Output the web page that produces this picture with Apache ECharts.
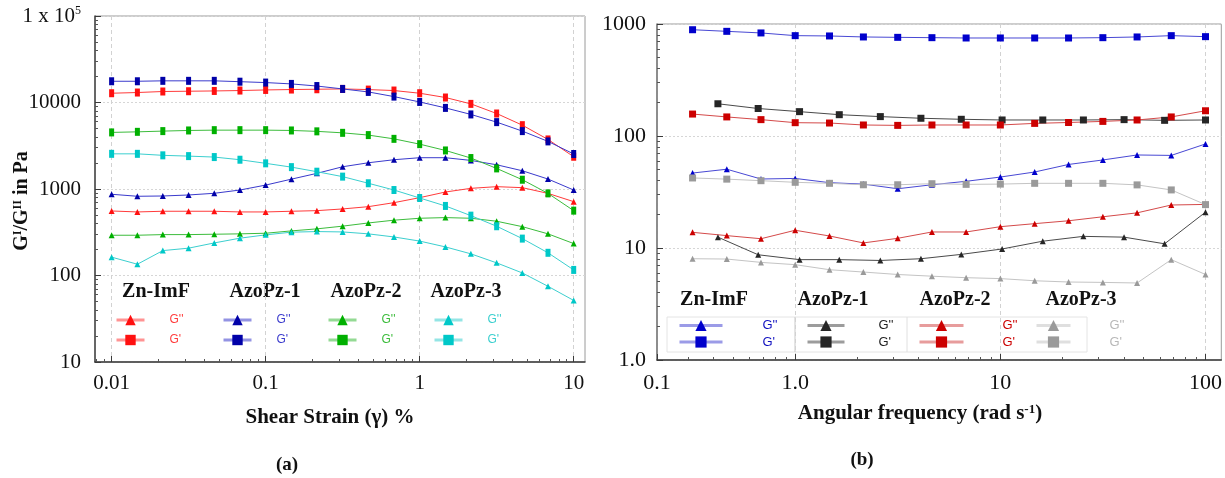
<!DOCTYPE html>
<html><head><meta charset="utf-8">
<script src="https://cdn.jsdelivr.net/npm/echarts@6/dist/echarts.min.js"></script>
<style>html,body{margin:0;padding:0;background:#fff}#c{width:1225px;height:478px}</style>
</head><body><div id="c"></div>
<script>
// ---------- (a) strain sweep ----------
const strainX = [0.01, 0.0147, 0.0215, 0.0316, 0.0464, 0.0681, 0.1, 0.147, 0.215, 0.316, 0.464, 0.681, 1, 1.47, 2.15, 3.16, 4.64, 6.81, 10];
const aZnImF_Gpp = [557, 543, 553, 553, 553, 543, 543, 553, 562, 588, 625, 695, 794, 923, 1018, 1064, 1036, 890, 714];
const aZnImF_Gp  = [12800, 13040, 13400, 13500, 13600, 13750, 13970, 14120, 14230, 14350, 14100, 13750, 12800, 11420, 9640, 7460, 5470, 3740, 2360];
const aAzo1_Gpp  = [869, 824, 830, 853, 892, 973, 1110, 1300, 1516, 1808, 2010, 2180, 2300, 2300, 2140, 1906, 1625, 1303, 973];
const aAzo1_Gp   = [17600, 17600, 17800, 17800, 17800, 17400, 17000, 16400, 15500, 14350, 13250, 11700, 10150, 8660, 7280, 5930, 4670, 3550, 2540];
const aAzo2_Gpp  = [292, 292, 297, 297, 300, 303, 308, 328, 346, 372, 405, 436, 459, 467, 459, 424, 367, 303, 234];
const aAzo2_Gp   = [4510, 4580, 4670, 4750, 4790, 4790, 4790, 4750, 4640, 4460, 4200, 3800, 3300, 2790, 2280, 1730, 1280, 890, 562];
const aAzo3_Gpp  = [163, 135, 194, 207, 238, 270, 295, 317, 322, 319, 303, 279, 250, 214, 178, 140, 107, 75, 51.5];
const aAzo3_Gp   = [2550, 2550, 2450, 2400, 2340, 2180, 1980, 1790, 1585, 1390, 1165, 973, 787, 637, 492, 371, 267, 183, 116];

// ---------- (b) frequency sweep ----------
const freqX  = [0.316, 0.464, 0.681, 1, 1.47, 2.15, 3.16, 4.64, 6.81, 10, 14.7, 21.5, 31.6, 46.4, 68.1, 100];
const freqX1 = [0.42, 0.66, 1.05, 1.64, 2.6, 4.1, 6.45, 10.2, 16.1, 25.4, 40.1, 63.2, 100];
const bZnImF_Gpp = [46.7, 50.5, 41.3, 41.8, 38.3, 37.2, 33.8, 36.7, 39.4, 43, 47.7, 55.7, 61.1, 67.7, 67.1, 84.9];
const bZnImF_Gp  = [889, 860, 832, 787, 782, 766, 760, 755, 750, 750, 750, 750, 755, 766, 787, 771];
const bAzo1_Gpp  = [12.5, 8.7, 7.87, 7.87, 7.74, 8.02, 8.77, 9.8, 11.5, 12.7, 12.5, 10.9, 20.9];
const bAzo1_Gp   = [194, 176, 165, 155, 149, 144, 141, 139, 139, 139, 140, 138, 139];
const bAzo2_Gpp  = [13.8, 12.9, 12.1, 14.4, 12.8, 11.1, 12.2, 13.9, 13.9, 15.5, 16.5, 17.5, 19, 20.6, 24.2, 24.5];
const bAzo2_Gp   = [157, 148, 140, 131.5, 130.6, 125.4, 124.4, 125.4, 125.4, 125.4, 129.6, 132, 135, 139, 148, 168];
const bAzo3_Gpp  = [8.02, 7.97, 7.44, 7.1, 6.4, 6.1, 5.8, 5.6, 5.43, 5.33, 5.1, 4.97, 4.93, 4.87, 7.87, 5.8];
const bAzo3_Gp   = [42.2, 41.2, 39.9, 38.6, 37.8, 36.7, 36.7, 37.5, 37, 37.2, 37.8, 37.8, 37.8, 36.6, 33, 24.4];

// ---------- ticks & labels ----------
const groups = ['Zn-ImF', 'AzoPz-1', 'AzoPz-2', 'AzoPz-3'];
const aXTicks = [0.01, 0.1, 1, 10];
const aXLabels = ['0.01', '0.1', '1', '10'];
const aYTicks = [10, 100, 1000, 10000, 100000];
const aYLabels = ['10', '100', '1000', '10000', '1 x 10{s|5}'];
const bXTicks = [0.212, 1, 10, 100];
const bXLabels = ['0.1', '1.0', '10', '100'];
const bYTicks = [1, 10, 100, 1000];
const bYLabels = ['1.0', '10', '100', '1000'];
const aXRange = [0.0078, 11.84];
const aYRange = [10, 100000];
const bXRange = [0.212, 119.4];
const bYRange = [1, 1000];

function minorTicks(lo, hi) {
  const out = [];
  for (let p = -3; p <= 5; p++) for (let m = 2; m <= 9; m++) {
    const v = m * Math.pow(10, p);
    if (v > lo && v < hi) out.push(v);
  }
  return out;
}
function fmt(vals, labels) {
  return function (v) {
    for (let i = 0; i < vals.length; i++) if (Math.abs(Math.log10(v) - Math.log10(vals[i])) < 1e-4) return labels[i];
    return '';
  };
}

const SERIF = '"Liberation Serif", "Times New Roman", serif';
const SANS = '"Liberation Sans", Arial, sans-serif';

const aLine = ['#ff3b3b', '#3a3acc', '#3cbc3c', '#3ccfcf'];
const aMark = ['#ff1010', '#0000a8', '#00b000', '#00c8c8'];
const aGpp = [aZnImF_Gpp, aAzo1_Gpp, aAzo2_Gpp, aAzo3_Gpp];
const aGp = [aZnImF_Gp, aAzo1_Gp, aAzo2_Gp, aAzo3_Gp];
const bLine = ['#4848d4', '#4a4a4a', '#d44a4a', '#c4c4c4'];
const bMark = ['#0000cc', '#262626', '#cc0000', '#9a9a9a'];
const bTxt = ['#1010c0', '#222222', '#cc0000', '#b8b8b8'];
const bGpp = [bZnImF_Gpp, bAzo1_Gpp, bAzo2_Gpp, bAzo3_Gpp];
const bGp = [bZnImF_Gp, bAzo1_Gp, bAzo2_Gp, bAzo3_Gp];
const bXs = [freqX, freqX1, freqX, freqX];

const series = [];
const legends = [];
const aLegLeft = [115, 222, 327, 433];
const bLegLeft = [678, 806, 918, 1035];
const bLegW = [43, 37, 44, 34];
const bLegPad = [35, 29, 34, 34];

groups.forEach((g, i) => {
  const n1 = 'a ' + g + " G''", n2 = 'a ' + g + " G'";
  series.push({ name: n1, type: 'line', xAxisIndex: 0, yAxisIndex: 0, symbol: 'triangle', symbolSize: 6,
    data: strainX.map((x, k) => [x, aGpp[i][k]]), lineStyle: { width: 1, color: aLine[i] }, itemStyle: { color: aMark[i] } });
  series.push({ name: n2, type: 'line', xAxisIndex: 0, yAxisIndex: 0, symbol: 'rect', symbolSize: [5, 8],
    data: strainX.map((x, k) => [x, aGp[i][k]]), lineStyle: { width: 1, color: aLine[i] }, itemStyle: { color: aMark[i] } });
  legends.push({ data: [n1, n2], orient: 'vertical', left: aLegLeft[i], top: 314, padding: 0,
    itemWidth: 28, itemHeight: 13, itemGap: 8, selectedMode: false,
    lineStyle: { width: 3, opacity: 0.55 },
    formatter: nm => nm.split(' ').pop(),
    textStyle: { color: aLine[i], fontFamily: SANS, fontSize: 12, padding: [0, 0, 0, 20] } });

  const m1 = 'b ' + g + " G''", m2 = 'b ' + g + " G'";
  series.push({ name: m1, type: 'line', xAxisIndex: 2, yAxisIndex: 2, symbol: 'triangle', symbolSize: 6,
    data: bXs[i].map((x, k) => [x, bGpp[i][k]]), lineStyle: { width: 1, color: bLine[i] }, itemStyle: { color: bMark[i] } });
  series.push({ name: m2, type: 'line', xAxisIndex: 2, yAxisIndex: 2, symbol: 'rect', symbolSize: 7,
    data: bXs[i].map((x, k) => [x, bGp[i][k]]), lineStyle: { width: 1, color: bLine[i] }, itemStyle: { color: bMark[i] } });
  legends.push({ data: [m1, m2], orient: 'vertical', left: bLegLeft[i], top: 319, padding: 0,
    itemWidth: bLegW[i], itemHeight: 14, itemGap: 3.5, selectedMode: false,
    lineStyle: { width: 3, opacity: 0.55 },
    formatter: nm => nm.split(' ').pop(),
    textStyle: { color: bTxt[i], fontFamily: SANS, fontSize: 13, padding: [0, 0, 0, bLegPad[i]] } });
});

function majorX(grid, range, ticks, labels, fs, margin) {
  return { gridIndex: grid, type: 'log', position: 'bottom', min: range[0], max: range[1],
    axisLine: { show: true, lineStyle: { color: '#3a3a3a', width: 1.5 } },
    axisTick: { show: true, inside: true, length: 6, customValues: ticks, lineStyle: { color: '#3a3a3a' } },
    axisLabel: { customValues: ticks, formatter: fmt(ticks, labels), margin: margin, color: '#111', fontFamily: SERIF, fontSize: fs, showMinLabel: true, showMaxLabel: true },
    splitLine: { show: true, lineStyle: { type: [4, 3], color: '#d2d2d2' } } };
}
function minorX(grid, range) {
  return { gridIndex: grid, type: 'log', position: 'bottom', min: range[0], max: range[1],
    axisLine: { show: false }, axisLabel: { show: false }, splitLine: { show: false },
    axisTick: { show: true, inside: true, length: 3, customValues: minorTicks(range[0], range[1]), lineStyle: { color: '#555' } } };
}
function majorY(grid, range, ticks, labels, fs, margin, lineColor) {
  return { gridIndex: grid, type: 'log', position: 'left', min: range[0], max: range[1],
    axisLine: { show: true, lineStyle: { color: lineColor, width: 1.5 } },
    axisTick: { show: true, inside: true, length: 6, customValues: ticks, lineStyle: { color: '#3a3a3a' } },
    axisLabel: { customValues: ticks, formatter: fmt(ticks, labels), margin: margin, color: '#111', fontFamily: SERIF, fontSize: fs, showMinLabel: true, showMaxLabel: true,
      rich: { s: { fontFamily: SERIF, fontSize: 12, color: '#111', verticalAlign: 'top', padding: [0, 0, 10, 0] } } },
    splitLine: { show: true, lineStyle: { type: [2, 2], color: '#d6d6d6' } } };
}
function minorY(grid, range) {
  return { gridIndex: grid, type: 'log', position: 'left', min: range[0], max: range[1],
    axisLine: { show: false }, axisLabel: { show: false }, splitLine: { show: false },
    axisTick: { show: true, inside: true, length: 3, customValues: minorTicks(range[0], range[1]), lineStyle: { color: '#555' } } };
}

const option = {
  animation: false,
  backgroundColor: '#ffffff',
  grid: [
    { left: 95, top: 16, width: 490, height: 346, show: true, borderColor: '#9a9a9a', borderWidth: 1 },
    { left: 657, top: 24, width: 570, height: 336, show: true, borderColor: '#9a9a9a', borderWidth: 1 }
  ],
  xAxis: [
    majorX(0, aXRange, aXTicks, aXLabels, 21, 11), minorX(0, aXRange),
    majorX(1, bXRange, bXTicks, bXLabels, 22, 12), minorX(1, bXRange)
  ],
  yAxis: [
    majorY(0, aYRange, aYTicks, aYLabels, 21, 14, '#444'), minorY(0, aYRange),
    majorY(1, bYRange, bYTicks, bYLabels, 22, 11, '#777'), minorY(1, bYRange)
  ],
  legend: legends,
  series: series,
  graphic: [
    { type: 'rect', shape: { x: 667, y: 317, width: 420, height: 35 }, style: { fill: 'none', stroke: '#e4e4e4', lineWidth: 1 }, z: 0 },
    { type: 'line', shape: { x1: 795, y1: 317, x2: 795, y2: 352 }, style: { stroke: '#c8c8c8', lineWidth: 1 } },
    { type: 'line', shape: { x1: 907, y1: 317, x2: 907, y2: 352 }, style: { stroke: '#e0e0e0', lineWidth: 1 } },
    ...['Zn-ImF', 'AzoPz-1', 'AzoPz-2', 'AzoPz-3'].map((t, i) => ({ type: 'text', x: [156, 265, 366, 466][i], y: 292,
      style: { text: t, font: 'bold 20px ' + SERIF, fill: '#111', align: 'center', verticalAlign: 'middle' } })),
    ...['Zn-ImF', 'AzoPz-1', 'AzoPz-2', 'AzoPz-3'].map((t, i) => ({ type: 'text', x: [714, 833, 955, 1081][i], y: 300,
      style: { text: t, font: 'bold 20px ' + SERIF, fill: '#111', align: 'center', verticalAlign: 'middle' } })),
    { type: 'text', x: 22, y: 201, rotation: Math.PI / 2,
      style: { text: 'G{s|I}/G{s|II} in Pa', font: 'bold 20px ' + SERIF, fill: '#111', align: 'center', verticalAlign: 'middle',
        rich: { s: { font: 'bold 12px ' + SERIF, fill: '#111', verticalAlign: 'top', padding: [0, 0, 8, 0] } } } },
    { type: 'text', x: 330, y: 418,
      style: { text: 'Shear Strain (γ) %', font: 'bold 21px ' + SERIF, fill: '#111', align: 'center', verticalAlign: 'middle' } },
    { type: 'text', x: 920, y: 414,
      style: { text: 'Angular frequency (rad s{s|-1})', font: 'bold 21px ' + SERIF, fill: '#111', align: 'center', verticalAlign: 'middle',
        rich: { s: { font: 'bold 13px ' + SERIF, fill: '#111', verticalAlign: 'top', padding: [0, 0, 8, 0] } } } },
    { type: 'text', x: 287, y: 465, style: { text: '(a)', font: 'bold 19px ' + SERIF, fill: '#111', align: 'center', verticalAlign: 'middle' } },
    { type: 'text', x: 862, y: 460, style: { text: '(b)', font: 'bold 19px ' + SERIF, fill: '#111', align: 'center', verticalAlign: 'middle' } }
  ]
};
const chart = echarts.init(document.getElementById('c'), null, { renderer: 'canvas' });
chart.setOption(option);
</script>
</body></html>
